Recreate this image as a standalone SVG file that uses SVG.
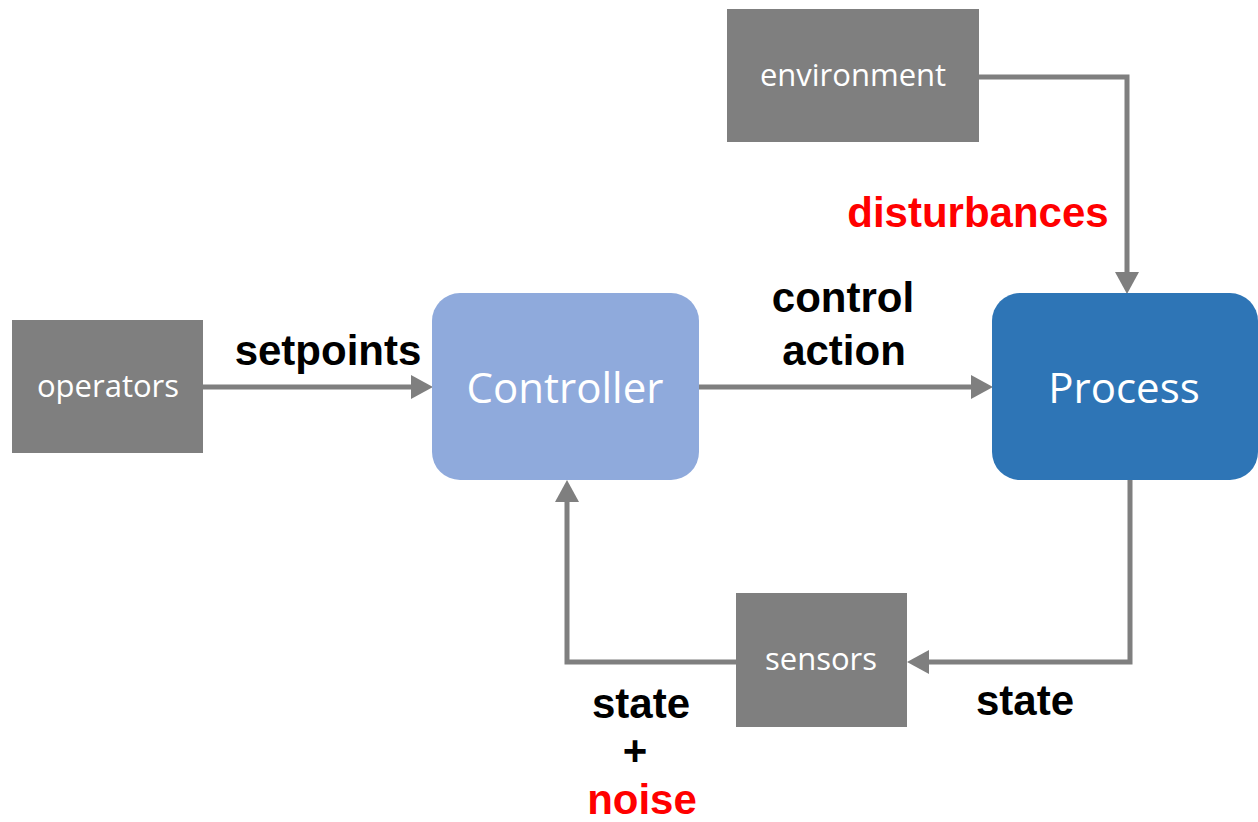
<svg xmlns="http://www.w3.org/2000/svg" width="1258" height="822" viewBox="0 0 1258 822">
<style>
.gray{fill:#7F7F7F}
.ntext{font-family:"Open Sans","DejaVu Sans",sans-serif;fill:#FFFFFF;text-anchor:middle}
.small{font-size:31px}
.big{font-size:42px}
.lbl{font-family:"Liberation Sans",Arial,sans-serif;font-weight:bold;font-size:42px;text-anchor:middle;fill:#000000}
.red{fill:#FF0000}
.conn{fill:none;stroke:#7F7F7F;stroke-width:5}
</style>
<defs>
<marker id="arr" markerUnits="userSpaceOnUse" markerWidth="22" markerHeight="24" refX="0" refY="12" orient="auto">
<path d="M0,0 L22,12 L0,24 z" fill="#7F7F7F"/>
</marker>
</defs>
<rect width="1258" height="822" fill="#FFFFFF"/>
<g id="connectors">
<path class="conn" d="M203,387 L411,387" marker-end="url(#arr)"/>
<path class="conn" d="M699,387 L971,387" marker-end="url(#arr)"/>
<path class="conn" d="M979,77 L1127,77 L1127,272" marker-end="url(#arr)"/>
<path class="conn" d="M1130,480 L1130,662 L929,662" marker-end="url(#arr)"/>
<path class="conn" d="M736,662 L567,662 L567,502" marker-end="url(#arr)"/>
</g>
<g id="operators">
<rect class="gray" x="12" y="320" width="191" height="133"/>
<text class="ntext small" x="108" y="397">operators</text>
</g>
<g id="controller">
<rect x="432" y="293" width="267" height="187" rx="28" fill="#8FAADC"/>
<text class="ntext big" x="565" y="403">Controller</text>
</g>
<g id="process">
<rect x="992" y="293" width="266" height="187" rx="28" fill="#2E75B6"/>
<text class="ntext big" x="1124" y="403">Process</text>
</g>
<g id="environment">
<rect class="gray" x="727" y="9" width="252" height="133"/>
<text class="ntext small" x="853" y="86">environment</text>
</g>
<g id="sensors">
<rect class="gray" x="736" y="593" width="171" height="134"/>
<text class="ntext small" x="821" y="670">sensors</text>
</g>
<g id="labels">
<text class="lbl" x="328" y="365">setpoints</text>
<text class="lbl" x="843" y="312">control</text>
<text class="lbl" x="844" y="365">action</text>
<text class="lbl red" x="978" y="227">disturbances</text>
<text class="lbl" x="1025" y="715">state</text>
<text class="lbl" x="641" y="718">state</text>
<text class="lbl" x="635" y="765">+</text>
<text class="lbl red" x="642" y="814">noise</text>
</g>
</svg>
